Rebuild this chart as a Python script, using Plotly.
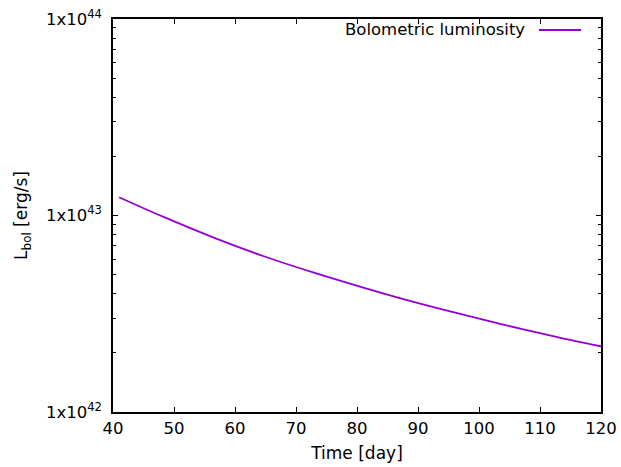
import plotly.graph_objects as go

time_day = [41.0, 48.2, 56.4, 64.6, 72.8, 80.2, 87.9, 96.1, 104.3, 112.5, 120.0]
l_bol = [1.239e43, 9.86e42, 7.74e42, 6.22e42, 5.13e42, 4.37e42, 3.73e42, 3.20e42,
         2.77e42, 2.42e42, 2.16e42]
series_name = "Bolometric luminosity"
y_tickvals = [1e42, 1e43, 1e44]
y_ticktext = ["1x10<sup>42</sup>", "1x10<sup>43</sup>", "1x10<sup>44</sup>"]
x_tickvals = [40, 50, 60, 70, 80, 90, 100, 110, 120]

color = "#9400d3"
FS = 16.5
font = dict(family="DejaVu Sans", size=FS, color="black")
tfont = dict(family="DejaVu Sans", size=17, color="black")

W, H = 621, 467
ML, MR, MT, MB = 113, 20, 19, 55

fig = go.Figure()
fig.add_trace(go.Scatter(x=time_day, y=l_bol, mode="lines", name=series_name,
                         line=dict(color=color, width=1.8, shape="spline", smoothing=1.0),
                         showlegend=False))

fig.update_layout(
    width=W, height=H,
    margin=dict(l=ML, r=MR, t=MT, b=MB, autoexpand=False),
    paper_bgcolor="white", plot_bgcolor="white",
    font=font,
)
fig.update_xaxes(range=[40, 120], tickvals=x_tickvals, ticks="inside", ticklen=5,
                 tickcolor="black", mirror="ticks", showline=True, linecolor="black",
                 linewidth=1.5, showgrid=False, zeroline=False, ticklabelstandoff=0,
                 automargin=False, ticklabeloverflow="allow",
                 title=dict(text="Time [day]", standoff=11, font=tfont), tickfont=font)
fig.update_yaxes(type="log", range=[42, 44], tickvals=y_tickvals, ticktext=y_ticktext,
                 ticks="inside", ticklen=5, tickcolor="black", mirror="ticks",
                 showline=True, linecolor="black", linewidth=1.5, showgrid=False,
                 zeroline=False, tickfont=font, ticklabelstandoff=6,
                 automargin=False, ticklabeloverflow="allow",
                 minor=dict(ticks="inside", ticklen=3, tickcolor="black", dtick="D1", showgrid=False),
                 title=dict(text="L<sub>bol</sub> [erg/s]", standoff=14, font=tfont))

# legend drawn gnuplot-style: text then sample line to its right
ly = 1 - (30 - 19) / 393
fig.add_annotation(xref="paper", yref="paper", x=(527 - 113) / 488, y=ly,
                   text=series_name, showarrow=False, xanchor="right", yanchor="middle",
                   font=font)
fig.add_shape(type="line", xref="paper", yref="paper",
              x0=(539 - 113) / 488, x1=(581 - 113) / 488, y0=ly, y1=ly,
              line=dict(color=color, width=1.8))

fig.write_html(
    "out.html",
    config={"displayModeBar": False},
    post_script="document.body.style.margin='0';document.body.style.overflow='hidden';"
                "document.documentElement.style.overflow='hidden';",
)
